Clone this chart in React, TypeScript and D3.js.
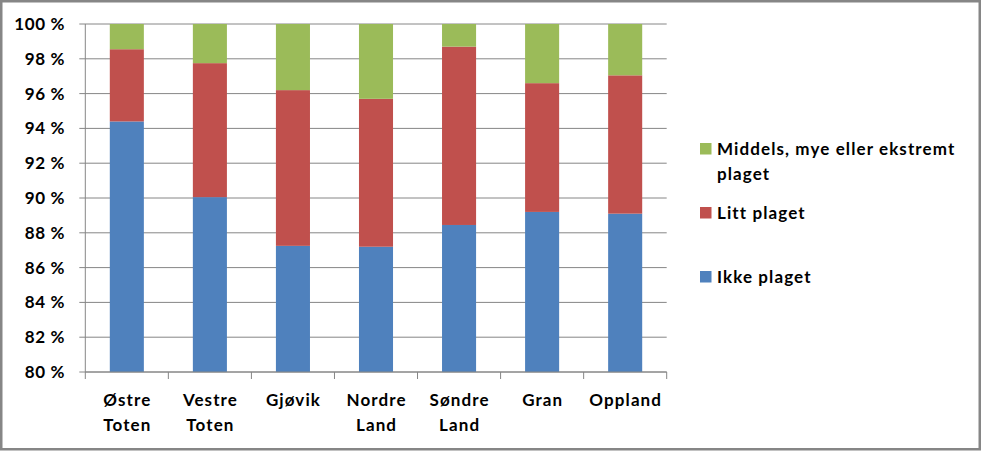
import React from "react";
import * as d3 from "d3";

const categories = [["Østre", "Toten"], ["Vestre", "Toten"], ["Gjøvik"], ["Nordre", "Land"], ["Søndre", "Land"], ["Gran"], ["Oppland"]];
const ikkePlaget = [94.4, 90.05, 87.25, 87.2, 88.45, 89.2, 89.1];
const littPlaget = [4.15, 7.7, 8.95, 8.5, 10.25, 7.4, 7.95];
const middels = ikkePlaget.map((v, i) => +(100 - v - littPlaget[i]).toFixed(2));
const yTicks = [80, 82, 84, 86, 88, 90, 92, 94, 96, 98, 100];
const seriesNames = ["Ikke plaget", "Litt plaget", "Middels, mye eller ekstremt plaget"];
const colors = ["#4f81bd", "#c0504d", "#9bbb59"];

const W = 982, H = 451;
const left = 85.3, right = 666.7, top = 24, bottom = 372;
const font = "Lato, 'Open Sans', sans-serif";
const ls = 1.1;

export default function App() {
  const x = d3.scaleBand<number>().domain(d3.range(categories.length)).range([left, right]).paddingInner(0.59).paddingOuter(0.295);
  const xb = d3.scaleBand<number>().domain(d3.range(categories.length)).range([left, right]);
  const y = d3.scaleLinear().domain([80, 100]).range([bottom, top]);
  const rows = categories.map((_, i) => ({ a: ikkePlaget[i], b: littPlaget[i], c: middels[i] }));
  const stack = d3.stack<any>().keys(["a", "b", "c"])(rows);
  const grid = "#868686";
  return (
    <svg width={W} height={H} style={{ position: "absolute", left: 0, top: 0 }}>
      <rect x={0} y={0} width={W} height={H} fill="#fff" />
      {yTicks.map((t) => (
        <g key={t}>
          <line x1={left - 6} x2={right} y1={y(t)} y2={y(t)} stroke={grid} strokeWidth={1} />
          <text x={65} y={y(t) + 6} textAnchor="end" fontFamily={font} fontWeight="bold" fontSize={17} letterSpacing={0.6} fill="#000">{t} %</text>
        </g>
      ))}
      {stack.map((s, si) => (
        <g key={si} fill={colors[si]}>
          {s.map((d, i) => {
            const y0 = Math.max(d[0], 80);
            return <rect key={i} x={x(i)} width={x.bandwidth()} y={y(d[1])} height={y(y0) - y(d[1])} />;
          })}
        </g>
      ))}
      <line x1={left} x2={left} y1={top} y2={bottom} stroke={grid} />
      <line x1={left} x2={right} y1={bottom} y2={bottom} stroke={grid} />
      {d3.range(categories.length + 1).map((i) => {
        const xx = i < categories.length ? (xb(i) as number) : right;
        return <line key={i} x1={xx} x2={xx} y1={bottom} y2={bottom + 7} stroke={grid} />;
      })}
      {categories.map((lines, i) => (
        <text key={i} textAnchor="middle" fontFamily={font} fontWeight="bold" fontSize={17} letterSpacing={ls} fill="#000">
          {lines.map((l, li) => (
            <tspan key={li} x={(xb(i) as number) + xb.bandwidth() / 2 + ls / 2} y={406 + li * 25}>{l}</tspan>
          ))}
        </text>
      ))}
      {[
        { s: 2, sy: 143, lines: ["Middels, mye eller ekstremt", "plaget"] },
        { s: 1, sy: 207, lines: ["Litt plaget"] },
        { s: 0, sy: 271, lines: ["Ikke plaget"] },
      ].map((e) => (
        <g key={e.s}>
          <rect x={700} y={e.sy} width={11.5} height={11.5} fill={colors[e.s]} />
          <text fontFamily={font} fontWeight="bold" fontSize={17} letterSpacing={ls} fill="#000">
            {e.lines.map((l, li) => (
              <tspan key={li} x={717} y={e.sy + 12 + li * 25}>{l}</tspan>
            ))}
          </text>
        </g>
      ))}
      <rect x={1.25} y={1.25} width={W - 3.5} height={H - 3} fill="none" stroke="#868686" strokeWidth={2.5} />
    </svg>
  );
}
